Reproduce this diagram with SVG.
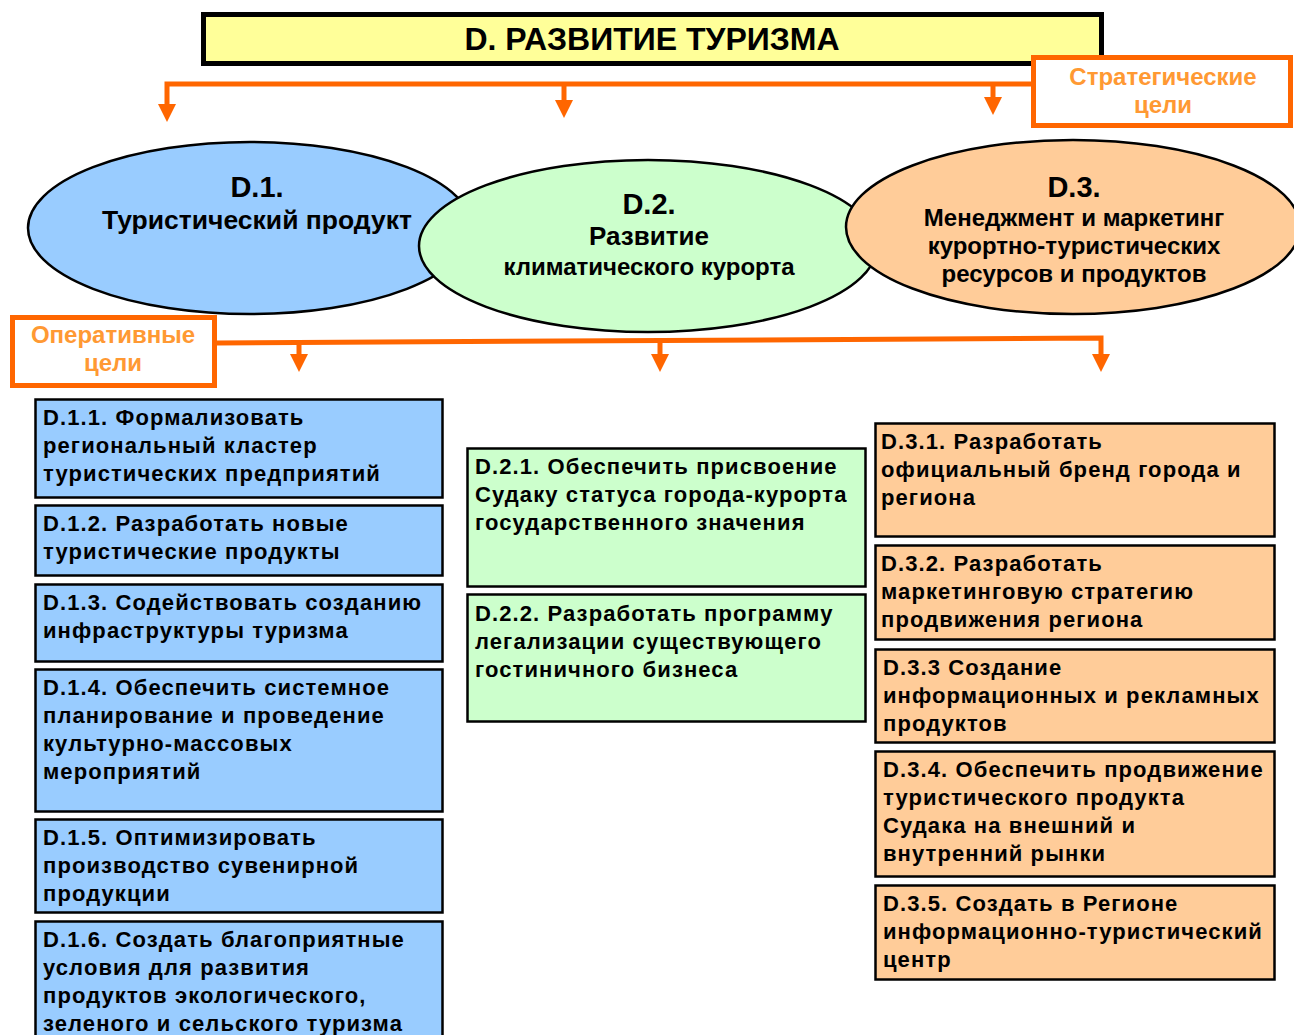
<svg xmlns="http://www.w3.org/2000/svg" width="1294" height="1035" viewBox="0 0 1294 1035">
<defs>
<style>
.t{font-family:"Liberation Sans",Arial,sans-serif;font-weight:bold;fill:#000}
.title{font-size:32px;text-anchor:middle}
.el{stroke:#000;stroke-width:2.5}
.eh{font-size:29px;text-anchor:middle}
.et{font-size:24px;text-anchor:middle}
.lab{font-family:"Liberation Sans",Arial,sans-serif;font-weight:bold;font-size:24px;fill:#FF9933;text-anchor:middle}
.labbox{fill:#fff;stroke:#FF6600;stroke-width:5}
.box{stroke:#000;stroke-width:2.5}
.blue{fill:#99CCFF}
.green{fill:#CCFFCC}
.orange{fill:#FFCC99}
.bt{font-size:22px;letter-spacing:1.1px}
.con{fill:none;stroke:#FF6600;stroke-width:5;marker-end:url(#arr)}
</style>
<marker id="arr" viewBox="0 0 18 18" refX="0" refY="9" markerWidth="18" markerHeight="18" markerUnits="userSpaceOnUse" orient="auto">
<path d="M0,0 L18,9 L0,18 z" fill="#FF6600"/>
</marker>
</defs>
<rect width="1294" height="1035" fill="#fff"/>

<g id="title">
<rect x="203.5" y="14.5" width="898" height="49" fill="#FFFF99" stroke="#000" stroke-width="5"/>
<text class="t title" x="652" y="50">D. РАЗВИТИЕ ТУРИЗМА</text>
</g>

<g id="label-strategic">
<rect class="labbox" x="1033.5" y="57.5" width="257" height="68"/>
<text class="lab" x="1163" y="85">Стратегические</text>
<text class="lab" x="1163" y="113">цели</text>
</g>

<g id="connectors">
<path class="con" d="M1031,84 H167 V104"/>
<path class="con" d="M564,84 V100"/>
<path class="con" d="M993,84 V97"/>
<path class="con" d="M217,343 L1101,338 V354"/>
<path class="con" d="M299,342.5 V354"/>
<path class="con" d="M660,340.5 V354"/>
</g>

<g id="D1">
<ellipse class="el" cx="250" cy="228" rx="222" ry="86" fill="#99CCFF"/>
<text class="t eh" x="257" y="197">D.1.</text>
<text class="t et" x="257" y="229" style="font-size:26.5px">Туристический продукт</text>
</g>
<g id="D2">
<ellipse class="el" cx="648" cy="246" rx="229" ry="86" fill="#CCFFCC"/>
<text class="t eh" x="649" y="214">D.2.</text>
<text class="t et" x="649" y="245" style="font-size:26px">Развитие</text>
<text class="t et" x="649" y="275">климатического курорта</text>
</g>
<g id="D3">
<ellipse class="el" cx="1073" cy="227" rx="227" ry="87" fill="#FFCC99"/>
<text class="t eh" x="1074" y="197">D.3.</text>
<text class="t et" x="1074" y="226">Менеджмент и маркетинг</text>
<text class="t et" x="1074" y="254">курортно-туристических</text>
<text class="t et" x="1074" y="282">ресурсов и продуктов</text>
</g>

<g id="label-operative">
<rect class="labbox" x="12.5" y="317.5" width="202" height="68"/>
<text class="lab" x="113" y="343">Оперативные</text>
<text class="lab" x="113" y="371">цели</text>
</g>

<g id="D1-1">
<rect class="box blue" x="35.5" y="399.5" width="407" height="98"/>
<text class="t bt" x="43" y="425">D.1.1. Формализовать</text>
<text class="t bt" x="43" y="453">региональный кластер</text>
<text class="t bt" x="43" y="481">туристических предприятий</text>
</g>
<g id="D1-2">
<rect class="box blue" x="35.5" y="505.5" width="407" height="70"/>
<text class="t bt" x="43" y="531">D.1.2. Разработать новые</text>
<text class="t bt" x="43" y="559">туристические продукты</text>
</g>
<g id="D1-3">
<rect class="box blue" x="35.5" y="584.5" width="407" height="77"/>
<text class="t bt" x="43" y="610">D.1.3. Содействовать созданию</text>
<text class="t bt" x="43" y="638">инфраструктуры туризма</text>
</g>
<g id="D1-4">
<rect class="box blue" x="35.5" y="669.5" width="407" height="142"/>
<text class="t bt" x="43" y="695">D.1.4. Обеспечить системное</text>
<text class="t bt" x="43" y="723">планирование и проведение</text>
<text class="t bt" x="43" y="751">культурно-массовых</text>
<text class="t bt" x="43" y="779">мероприятий</text>
</g>
<g id="D1-5">
<rect class="box blue" x="35.5" y="819.5" width="407" height="93"/>
<text class="t bt" x="43" y="845">D.1.5. Оптимизировать</text>
<text class="t bt" x="43" y="873">производство сувенирной</text>
<text class="t bt" x="43" y="901">продукции</text>
</g>
<g id="D1-6">
<rect class="box blue" x="35.5" y="921.5" width="407" height="130"/>
<text class="t bt" x="43" y="947">D.1.6. Создать благоприятные</text>
<text class="t bt" x="43" y="975">условия для развития</text>
<text class="t bt" x="43" y="1003">продуктов экологического,</text>
<text class="t bt" x="43" y="1031">зеленого и сельского туризма</text>
</g>

<g id="D2-1">
<rect class="box green" x="467.5" y="448.5" width="398" height="138"/>
<text class="t bt" x="475" y="474">D.2.1. Обеспечить присвоение</text>
<text class="t bt" x="475" y="502">Судаку статуса города-курорта</text>
<text class="t bt" x="475" y="530">государственного значения</text>
</g>
<g id="D2-2">
<rect class="box green" x="467.5" y="594.5" width="398" height="127"/>
<text class="t bt" x="475" y="621">D.2.2. Разработать программу</text>
<text class="t bt" x="475" y="649">легализации существующего</text>
<text class="t bt" x="475" y="677">гостиничного бизнеса</text>
</g>

<g id="D3-1">
<rect class="box orange" x="875.5" y="423.5" width="399" height="113"/>
<text class="t bt" x="881" y="449">D.3.1. Разработать</text>
<text class="t bt" x="881" y="477">официальный бренд города и</text>
<text class="t bt" x="881" y="505">региона</text>
</g>
<g id="D3-2">
<rect class="box orange" x="875.5" y="545.5" width="399" height="94"/>
<text class="t bt" x="881" y="571">D.3.2. Разработать</text>
<text class="t bt" x="881" y="599">маркетинговую стратегию</text>
<text class="t bt" x="881" y="627">продвижения региона</text>
</g>
<g id="D3-3">
<rect class="box orange" x="875.5" y="649.5" width="399" height="93"/>
<text class="t bt" x="883" y="675">D.3.3 Создание</text>
<text class="t bt" x="883" y="703">информационных и рекламных</text>
<text class="t bt" x="883" y="731">продуктов</text>
</g>
<g id="D3-4">
<rect class="box orange" x="875.5" y="751.5" width="399" height="125"/>
<text class="t bt" x="883" y="777">D.3.4. Обеспечить продвижение</text>
<text class="t bt" x="883" y="805">туристического продукта</text>
<text class="t bt" x="883" y="833">Судака на внешний и</text>
<text class="t bt" x="883" y="861">внутренний рынки</text>
</g>
<g id="D3-5">
<rect class="box orange" x="875.5" y="885.5" width="399" height="94"/>
<text class="t bt" x="883" y="911">D.3.5. Создать в Регионе</text>
<text class="t bt" x="883" y="939">информационно-туристический</text>
<text class="t bt" x="883" y="967">центр</text>
</g>
</svg>
